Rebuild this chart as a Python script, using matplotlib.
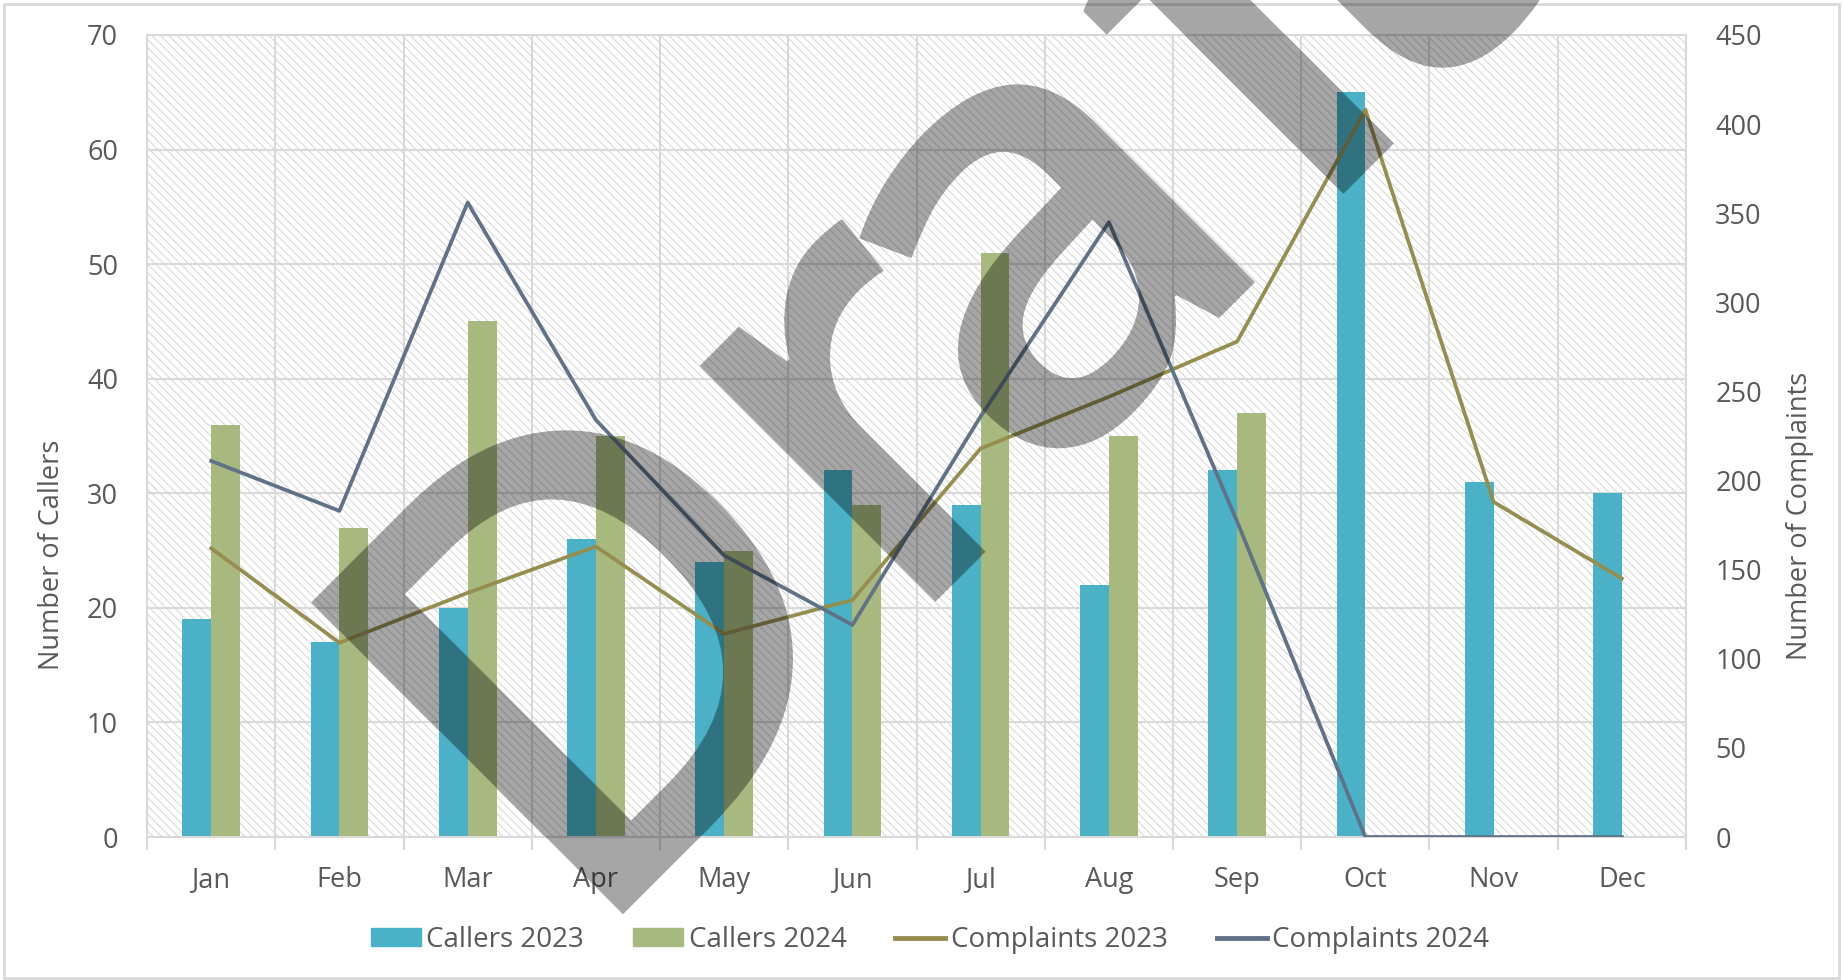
import matplotlib
matplotlib.use('Agg')
import matplotlib.pyplot as plt
import numpy as np
from matplotlib.patches import Rectangle, PathPatch
from matplotlib.lines import Line2D
from matplotlib.ticker import MultipleLocator, FixedLocator
from matplotlib.textpath import TextPath
from matplotlib.font_manager import FontProperties
from matplotlib.transforms import Affine2D

months = ['Jan', 'Feb', 'Mar', 'Apr', 'May', 'Jun', 'Jul', 'Aug', 'Sep', 'Oct', 'Nov', 'Dec']
callers_2023 = [19, 17, 20, 26, 24, 32, 29, 22, 32, 65, 31, 30]
callers_2024 = [36, 27, 45, 35, 25, 29, 51, 35, 37, 0, 0, 0]
complaints_2023 = [162, 109, 137, 163, 114, 133, 218, 247, 278, 408, 188, 145]
complaints_2024 = [211, 183, 356, 234, 158, 119, 236, 345, 177, 0, 0, 0]

plt.rcParams['font.family'] = ['Open Sans', 'DejaVu Sans']
plt.rcParams['hatch.linewidth'] = 0.8

txt = '#595959'
grid = '#d9d9d9'
c23 = '#4bb1c6'
c24 = '#a7b97e'
l23 = '#968e4f'
l24 = '#5f7287'
fs = 19.5

W, H = 1843, 980
fig = plt.figure(figsize=(W / 100, H / 100), dpi=100)
ax = fig.add_axes([0.0798, 0.1459, 0.835, 0.8184])

# штриховка фона
ax.add_patch(Rectangle((0, 0), 1, 1, transform=ax.transAxes, facecolor='white',
                       edgecolor=grid, hatch='\\\\\\\\', lw=0, zorder=0))

x = np.arange(len(months))
w = 0.225
ax.bar(x - w / 2, callers_2023, w, color=c23, zorder=2)
ax.bar(x + w / 2, callers_2024, w, color=c24, zorder=2)

ax.set_xlim(-0.5, 11.5)
ax.set_ylim(0, 70)
ax.yaxis.set_major_locator(MultipleLocator(10))
ax.set_xticks(x)
ax.set_xticklabels(months)
ax.xaxis.set_minor_locator(FixedLocator(np.arange(-0.5, 12, 1)))
ax.tick_params(axis='x', which='major', length=0, pad=21, labelsize=fs, labelcolor=txt)
ax.tick_params(axis='x', which='minor', length=9, width=1.5, color=grid)
ax.tick_params(axis='y', length=0, pad=21, labelsize=fs, labelcolor=txt)
ax.grid(True, axis='y', color=grid, lw=1.5, zorder=1)
ax.grid(True, axis='x', which='minor', color=grid, lw=1.5, zorder=1)
for s in ax.spines.values():
    s.set_color(grid)
    s.set_linewidth(1.5)
ax.set_ylabel('Number of Callers', fontsize=fs, color=txt)
ax.yaxis.set_label_coords(-0.053, 0.352)

ax2 = ax.twinx()
ax2.plot(x, complaints_2023, color=l23, lw=2.7)
ax2.plot(x, complaints_2024, color=l24, lw=2.7)
ax2.set_ylim(0, 450)
ax2.yaxis.set_major_locator(MultipleLocator(50))
ax2.tick_params(axis='y', length=0, pad=21, labelsize=fs, labelcolor=txt)
for s in ax2.spines.values():
    s.set_visible(False)
ax2.set_ylabel('Number of Complaints', fontsize=fs, color=txt)
ax2.yaxis.set_label_coords(1.065, 0.401)

handles = [Rectangle((0, 0), 1, 1, color=c23), Rectangle((0, 0), 1, 1, color=c24),
           Line2D([0], [0], color=l23, lw=3.5), Line2D([0], [0], color=l24, lw=3.5)]
labels = ['Callers 2023', 'Callers 2024', 'Complaints 2023', 'Complaints 2024']
fig.legend(handles, labels, loc='center', bbox_to_anchor=(0.5046, 0.041), ncol=4,
           frameon=False, fontsize=20, labelcolor=txt, handlelength=1.8,
           handleheight=0.6, handletextpad=0.2, columnspacing=1.76)

# рамка
fig.add_artist(Rectangle((0.002, 0.002), 0.996, 0.994, transform=fig.transFigure,
                         fill=False, edgecolor=grid, lw=2))

# водяной знак: каждая буква отдельно, u - вдоль строки, v - поперёк (пиксели)
fp = FontProperties(family='Open Sans', weight='semibold')
cap_px = 441
base_v = -1087
d_path = TextPath((0, 0), 'D', size=1, prop=fp)
k = cap_px / d_path.get_extents().y1
for ch, u in [('D', -206), ('r', 236), ('a', 405), ('f', 758), ('t', 900)]:
    p = TextPath((0, 0), ch, size=1, prop=fp)
    x0 = p.get_extents().x0
    sx = (u - base_v) / np.sqrt(2)
    sy = (-base_v - u) / np.sqrt(2)
    tr = Affine2D().translate(-x0, 0).scale(k).rotate_deg(45).translate(sx, H - sy)
    fig.add_artist(PathPatch(p, transform=tr, facecolor='black', alpha=0.35,
                             lw=0, zorder=10))

fig.savefig('out.png', dpi=100)
